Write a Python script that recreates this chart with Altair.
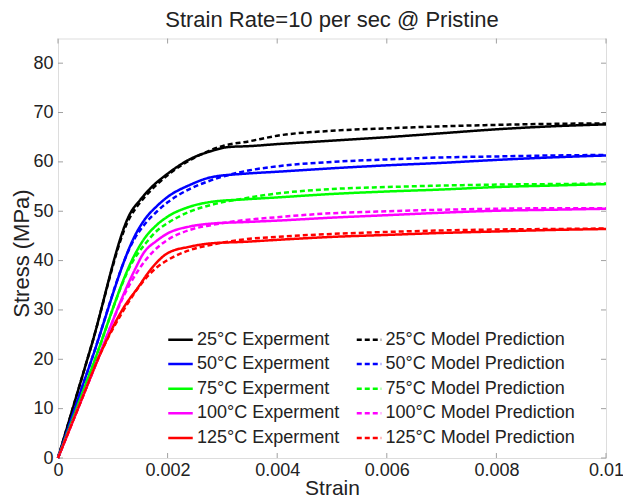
import altair as alt
import pandas as pd

FONT = "Liberation Sans"

temps = ["25", "50", "75", "100", "125"]
colors = ["#000000", "#0000ff", "#00ff00", "#ff00ff", "#ff0000"]

# Experimental curves (strain, stress MPa)
exp25_x = [0, 0.0006, 0.00134, 0.0015, 0.0017, 0.002, 0.0024, 0.0028, 0.0031, 0.0035, 0.004, 0.005, 0.006, 0.007, 0.008, 0.009, 0.01]
exp25_y = [0, 22.4, 50.0, 52.3, 54.8, 57.6, 60.5, 62.2, 63.0, 63.2, 63.6, 64.3, 65.0, 65.8, 66.6, 67.2, 67.6]
exp50_x = [0, 0.0006, 0.00146, 0.0016, 0.0018, 0.002, 0.0024, 0.0028, 0.0034, 0.004, 0.005, 0.006, 0.007, 0.008, 0.009, 0.01]
exp50_y = [0, 19.5, 46.2, 48.6, 51.0, 52.9, 55.3, 56.9, 57.6, 58.0, 58.7, 59.3, 59.8, 60.4, 60.9, 61.3]
exp75_x = [0, 0.0006, 0.00143, 0.00156, 0.0018, 0.002, 0.0024, 0.0028, 0.0034, 0.004, 0.005, 0.006, 0.007, 0.008, 0.009, 0.01]
exp75_y = [0, 17.7, 41.8, 44.2, 47.2, 48.9, 50.9, 51.9, 52.4, 52.8, 53.5, 54.0, 54.4, 54.9, 55.2, 55.5]
exp100_x = [0, 0.0006, 0.0014, 0.00156, 0.0018, 0.002, 0.0024, 0.0028, 0.0034, 0.004, 0.005, 0.006, 0.007, 0.008, 0.009, 0.01]
exp100_y = [0, 16.5, 38.1, 41.5, 44.0, 45.5, 46.9, 47.5, 47.8, 48.1, 48.7, 49.2, 49.7, 50.1, 50.3, 50.5]
exp125_x = [0, 0.0004, 0.0008, 0.0012, 0.00147, 0.00165, 0.0018, 0.002, 0.0024, 0.0028, 0.0034, 0.004, 0.005, 0.006, 0.007, 0.008, 0.009, 0.01]
exp125_y = [0, 11.0, 21.8, 30.5, 34.7, 37.6, 39.6, 41.5, 42.8, 43.5, 43.8, 44.2, 44.8, 45.2, 45.6, 45.9, 46.2, 46.4]

# Model predictions
mod25_x = [0, 0.0006, 0.0013, 0.0015, 0.0017, 0.002, 0.0025, 0.003, 0.0035, 0.004, 0.005, 0.006, 0.007, 0.008, 0.009, 0.01]
mod25_y = [0, 22.4, 48.5, 51.8, 54.3, 57.3, 60.9, 63.2, 64.2, 65.3, 66.3, 66.8, 67.2, 67.5, 67.7, 67.8]
mod50_x = [0, 0.0006, 0.0014, 0.0016, 0.0018, 0.002, 0.0024, 0.0028, 0.0035, 0.004, 0.005, 0.006, 0.007, 0.008, 0.009, 0.01]
mod50_y = [0, 19.5, 44.5, 47.6, 49.9, 51.8, 54.5, 56.3, 58.3, 59.1, 60.0, 60.5, 60.9, 61.1, 61.3, 61.4]
mod75_x = [0, 0.0006, 0.0014, 0.0016, 0.0018, 0.002, 0.0024, 0.0028, 0.0034, 0.004, 0.005, 0.006, 0.007, 0.008, 0.009, 0.01]
mod75_y = [0, 17.7, 40.5, 43.5, 46.0, 47.6, 49.9, 51.3, 52.6, 53.6, 54.5, 54.9, 55.2, 55.4, 55.5, 55.6]
mod100_x = [0, 0.0006, 0.0013, 0.0016, 0.0018, 0.002, 0.0024, 0.0028, 0.0034, 0.004, 0.005, 0.006, 0.007, 0.008, 0.009, 0.01]
mod100_y = [0, 16.5, 35.0, 40.1, 42.5, 44.2, 46.2, 47.2, 48.2, 48.8, 49.6, 50.0, 50.3, 50.5, 50.6, 50.6]
mod125_x = [0, 0.0004, 0.0008, 0.0012, 0.0014, 0.0016, 0.0018, 0.002, 0.0024, 0.0028, 0.0034, 0.004, 0.005, 0.006, 0.007, 0.008, 0.009, 0.01]
mod125_y = [0, 11.0, 21.8, 30.0, 33.5, 36.4, 38.6, 40.1, 42.1, 43.2, 44.3, 44.8, 45.4, 45.8, 46.1, 46.3, 46.4, 46.5]

x_ticks = [0, 0.002, 0.004, 0.006, 0.008, 0.01]
y_ticks = [0, 10, 20, 30, 40, 50, 60, 70, 80]

exp_sets = [(exp25_x, exp25_y), (exp50_x, exp50_y), (exp75_x, exp75_y), (exp100_x, exp100_y), (exp125_x, exp125_y)]
mod_sets = [(mod25_x, mod25_y), (mod50_x, mod50_y), (mod75_x, mod75_y), (mod100_x, mod100_y), (mod125_x, mod125_y)]

rows_exp, rows_mod = [], []
dom_e, dom_m, col_e, col_m = [], [], [], []
for t, col, (ex, ey), (mx, my) in zip(temps, colors, exp_sets, mod_sets):
    le = f"{t}°C Experment"
    lm = f"{t}°C Model Prediction"
    dom_e.append(le)
    dom_m.append(lm)
    col_e.append(col)
    col_m.append(col)
    rows_exp += [{"strain": a, "stress": b, "series": le} for a, b in zip(ex, ey)]
    rows_mod += [{"strain": a, "stress": b, "series": lm} for a, b in zip(mx, my)]

domain = dom_e + dom_m
c_range = col_e + col_m
d_range = [[1, 0]] * len(dom_e) + [[5, 3]] * len(dom_m)

df_exp = pd.DataFrame(rows_exp)
df_mod = pd.DataFrame(rows_mod)

W, H = 548, 419.5

legend = alt.Legend(
    title=None, orient="none", legendX=109, legendY=287.5, columns=2,
    symbolType="stroke", symbolSize=600, symbolStrokeWidth=2.5,
    labelFontSize=18, labelFont=FONT, labelColor="#222222", labelOffset=3,
    rowPadding=1.6, columnPadding=11.5, padding=0, labelLimit=300,
)

xscale = alt.Scale(domain=[0, 0.01], nice=False)
yscale = alt.Scale(domain=[0, 85], nice=False)

xaxis = alt.Axis(
    values=x_ticks, format="~g", labelFontSize=18, labelFont=FONT, labelColor="#222222",
    labelPadding=3, ticks=False, domain=False, grid=False, labelFlush=False, labelOverlap=False,
    title="Strain", titleFontSize=21, titleFont=FONT, titleFontWeight="normal", titleColor="#222222",
    titleY=36, titleBaseline="alphabetic",
)
yaxis = alt.Axis(
    values=y_ticks, labelFontSize=18, labelFont=FONT, labelColor="#222222",
    labelPadding=5, ticks=False, domain=False, grid=False, labelFlush=False, labelOverlap=False,
    title="Stress (MPa)", titleFontSize=22, titleFont=FONT, titleFontWeight="normal", titleColor="#222222",
    titleX=-29.5, titleY=214.5, titleAngle=-90, titleAlign="center", titleBaseline="alphabetic",
)

def line_layer(df):
    return alt.Chart(df).mark_line(strokeWidth=2.5, interpolate="monotone").encode(
        x=alt.X("strain:Q", scale=xscale, axis=xaxis),
        y=alt.Y("stress:Q", scale=yscale, axis=yaxis),
        color=alt.Color("series:N", scale=alt.Scale(domain=domain, range=c_range), legend=legend),
        strokeDash=alt.StrokeDash("series:N", scale=alt.Scale(domain=domain, range=d_range), legend=legend),
        detail="series:N",
    )

exp_layer = line_layer(df_exp)
mod_layer = line_layer(df_mod)

xt = pd.DataFrame({"t": x_ticks})
yt = pd.DataFrame({"t": y_ticks})
tick_color = "#a0a0a0"
xb = alt.Chart(xt).mark_rule(color=tick_color, strokeWidth=1).encode(x=alt.X("t:Q", scale=xscale), y=alt.value(H), y2=alt.value(H - 5))
xtp = alt.Chart(xt).mark_rule(color=tick_color, strokeWidth=1).encode(x=alt.X("t:Q", scale=xscale), y=alt.value(0), y2=alt.value(5))
yl = alt.Chart(yt).mark_rule(color=tick_color, strokeWidth=1).encode(y=alt.Y("t:Q", scale=yscale), x=alt.value(0), x2=alt.value(5))
yr = alt.Chart(yt).mark_rule(color=tick_color, strokeWidth=1).encode(y=alt.Y("t:Q", scale=yscale), x=alt.value(W), x2=alt.value(W - 5))

chart = alt.layer(xb, xtp, yl, yr, exp_layer, mod_layer).properties(
    width=W, height=H,
    title=alt.TitleParams("Strain Rate=10 per sec @ Pristine", fontSize=22, fontWeight="normal",
                          font=FONT, color="#222222", anchor="middle", baseline="alphabetic",
                          offset=12, frame="group", dy=23),
    autosize=alt.AutoSizeParams(type="none"),
    padding={"left": 58, "top": 38.5, "right": 17, "bottom": 43},
).configure_view(stroke="#a0a0a0", strokeWidth=1.5).configure(background="white")

chart.save("out.html", embed_options={"renderer": "svg", "actions": False})
